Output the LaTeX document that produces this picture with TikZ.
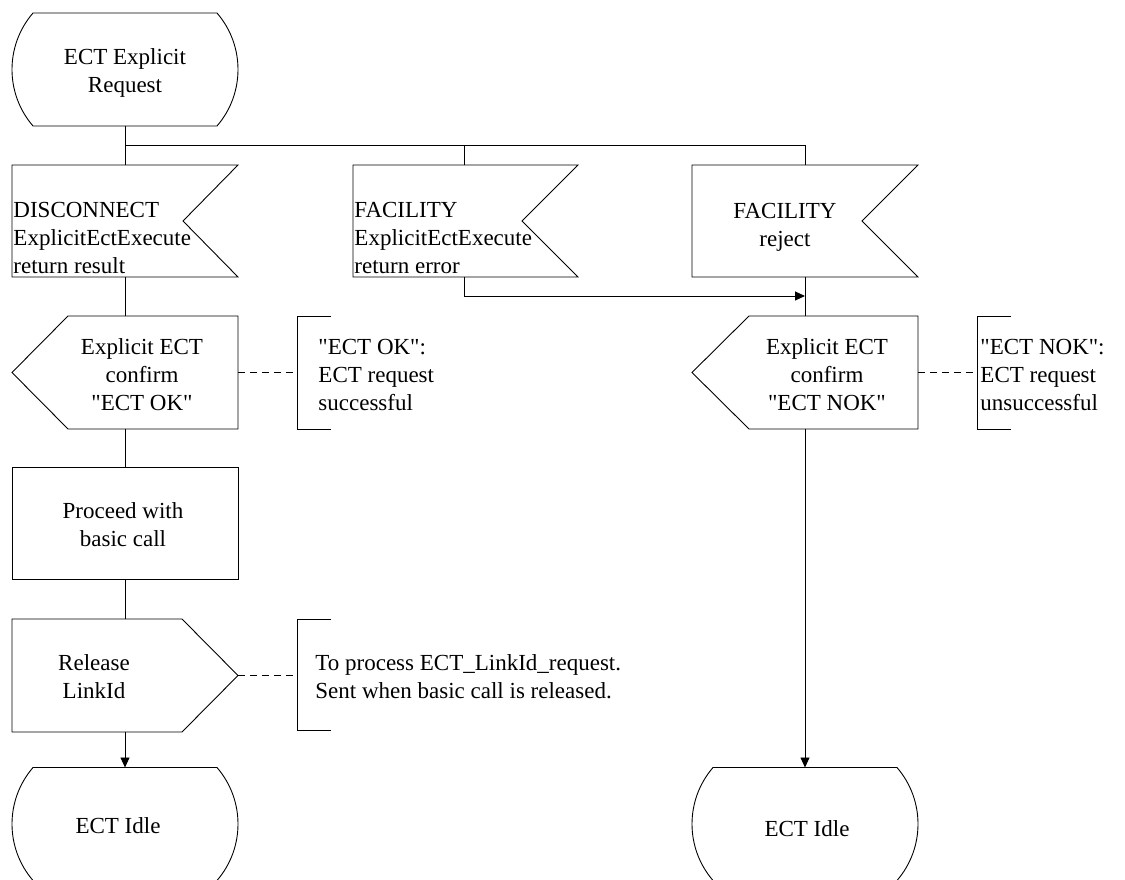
\documentclass[tikz,border=0pt]{standalone}
\usepackage{fontspec}
\setmainfont{Liberation Serif}[Ligatures=TeXOff]
\usetikzlibrary{arrows.meta}
\tikzset{
  sdlstate/.pic={
    \draw[shp] (-92,-56.5) -- (92,-56.5) .. controls (120,-24) and (120,24) .. (92,56.5)
      -- (-92,56.5) .. controls (-120,24) and (-120,-24) .. (-92,-56.5) -- cycle;
  }
}
\begin{document}
\begin{tikzpicture}[x=1pt,y=-1pt,line width=0.9pt,
  shp/.style={draw,line join=miter},
  txt/.style={font=\fontsize{23}{28}\selectfont,inner sep=0pt,align=center},
  ltxt/.style={txt,align=left,anchor=west},
  conn/.style={draw},
  arr/.style={draw,-{Triangle[length=10pt,width=9pt]}},
  note/.style={draw,dash pattern=on 7pt off 5pt}]
\useasboundingbox (0,0) rectangle (1125,880);

% ---- shapes ----
\pic at (125,69.5) {sdlstate};
\draw[shp] (12,165) -- (238,165) -- (183,221) -- (238,277) -- (12,277) -- cycle;
\draw[shp] (353,165) -- (578,165) -- (522,221) -- (578,277) -- (353,277) -- cycle;
\draw[shp] (692,165) -- (918,165) -- (862,221) -- (918,277) -- (692,277) -- cycle;
\draw[shp] (68,316) -- (238,316) -- (238,429) -- (68,429) -- (12,372.5) -- cycle;
\draw[shp] (749,316) -- (918,316) -- (918,429) -- (749,429) -- (692,372.5) -- cycle;
\draw[shp] (12,467) rectangle (238,579);
\draw[shp] (12,619) -- (182,619) -- (238,675.5) -- (182,732) -- (12,732) -- cycle;
\pic at (125,824) {sdlstate};
\pic at (805,824) {sdlstate};
% comment brackets
\draw (331,316) -- (297,316) -- (297,429) -- (331,429);
\draw (1011,316) -- (977,316) -- (977,429) -- (1011,429);
\draw (331,619) -- (297,619) -- (297,730) -- (331,730);

% ---- texts ----
\node[txt] (start) at (125,73) {ECT Explicit\\Request};
\node[ltxt] (sig1) at (13,238) {DISCONNECT\\ExplicitEctExecute\\return result};
\node[ltxt] (sig2) at (354,238) {FACILITY\\ExplicitEctExecute\\return error};
\node[txt] (sig3) at (785,227) {FACILITY\\reject};
\node[txt] (out1) at (142,375) {Explicit ECT\\confirm\\"ECT OK"};
\node[txt] (out2) at (827,375) {Explicit ECT\\confirm\\"ECT NOK"};
\node[ltxt] (cm1) at (318,375) {"ECT OK":\\ECT request\\successful};
\node[ltxt] (cm2) at (980,375) {"ECT NOK":\\ECT request\\unsuccessful};
\node[txt] (task) at (123,525) {Proceed with\\basic call};
\node[txt] (rel) at (94,677) {Release\\LinkId};
\node[ltxt] (cm3) at (315,677) {To process ECT\_LinkId\_request.\\Sent when basic call is released.};
\node[txt] (idle1) at (118,826) {ECT Idle};
\node[txt] (idle2) at (807,829) {ECT Idle};

% ---- connection points ----
\coordinate (start-s) at (125,126);
\coordinate (busL) at (125,145);
\coordinate (busM) at (464,145);
\coordinate (busR) at (805,145);
\coordinate (sig1-n) at (125,165);
\coordinate (sig2-n) at (464,165);
\coordinate (sig3-n) at (805,165);
\coordinate (sig1-s) at (125,277);
\coordinate (sig2-s) at (464,277);
\coordinate (sig3-s) at (805,277);
\coordinate (join) at (805,296);
\coordinate (out1-n) at (125,316);
\coordinate (out2-n) at (805,316);
\coordinate (out1-s) at (125,429);
\coordinate (out2-s) at (805,429);
\coordinate (out1-e) at (238,372.5);
\coordinate (out2-e) at (918,372.5);
\coordinate (cm1-w) at (297,372.5);
\coordinate (cm2-w) at (977,372.5);
\coordinate (task-n) at (125,467);
\coordinate (task-s) at (125,579);
\coordinate (rel-n) at (125,619);
\coordinate (rel-s) at (125,732);
\coordinate (rel-e) at (238,675.5);
\coordinate (cm3-w) at (297,675.5);
\coordinate (idle1-n) at (125,767.5);
\coordinate (idle2-n) at (805,767.5);

% ---- connectors ----
\draw[conn] (start-s) -- (sig1-n);
\draw[conn] (busL) -- (busR) -- (sig3-n);
\draw[conn] (busM) -- (sig2-n);
\draw[conn] (sig1-s) -- (out1-n);
\draw[arr] (sig2-s) |- (join);
\draw[conn] (sig3-s) -- (out2-n);
\draw[conn] (out1-s) -- (task-n);
\draw[conn] (task-s) -- (rel-n);
\draw[arr] (rel-s) -- (idle1-n);
\draw[arr] (out2-s) -- (idle2-n);
\draw[note] (out1-e) -- (cm1-w);
\draw[note] (out2-e) -- (cm2-w);
\draw[note] (rel-e) -- (cm3-w);
\end{tikzpicture}
\end{document}
